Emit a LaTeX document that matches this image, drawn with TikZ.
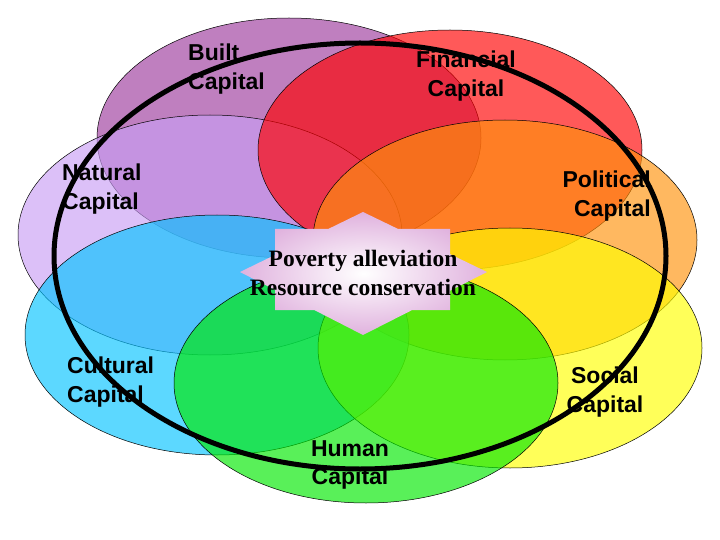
\documentclass[tikz,border=0pt]{standalone}
\usepackage{fontspec}
\setmainfont{Liberation Serif}
\setsansfont{Liberation Sans}
\usetikzlibrary{shapes.geometric,positioning}
\definecolor{builtc}{RGB}{157,58,157}
\definecolor{finc}{RGB}{255,0,0}
\definecolor{natc}{RGB}{201,158,244}
\definecolor{polc}{RGB}{255,146,10}
\definecolor{cultc}{RGB}{4,195,255}
\definecolor{socc}{RGB}{255,255,0}
\definecolor{humc}{RGB}{0,232,0}
\definecolor{starpink}{RGB}{224,178,222}
\tikzset{
  capblob/.style={ellipse,draw=black,line width=0.5pt,fill opacity=0.65,
              minimum width=384pt,minimum height=240pt,inner sep=0pt},
  caplabel/.style={font=\sffamily\bfseries\fontsize{23}{28.5}\selectfont,
                   inner sep=0pt},
  sustring/.style={ellipse,draw=black,line width=5pt,
               minimum width=612pt,minimum height=426pt,inner sep=0pt},
  goaltext/.style={font=\rmfamily\bfseries\fontsize{23.5}{29}\selectfont,
                   align=center,inner sep=0pt},
}
\begin{document}
\begin{tikzpicture}[x=1pt,y=-1pt]
  \useasboundingbox (0,0) rectangle (720,540);
  % capitals
  \node[capblob,fill=builtc] (built) at (289,138) {};
  \node[capblob,fill=natc]   (nat)   at (210,235) {};
  \node[capblob,fill=finc]   (fin)   at (450,150) {};
  \node[capblob,fill=polc]   (pol)   at (505,240) {};
  \node[capblob,fill=cultc]  (cult)  at (217,335) {};
  \node[capblob,fill=socc]   (soc)   at (510,348) {};
  \node[capblob,fill=humc]   (hum)   at (366,383) {};
  % sustainability ring
  \node[sustring] (sust) at (360,256) {};
  % centre star
  \shade[inner color=white,outer color=starpink]
    (275,229) -- (450,229) -- (450,310) -- (275,310) -- cycle
    (363,212) -- (487,272) -- (363,335) -- (240,272) -- cycle;
  \node[goaltext] (goal) at (363,273) {Poverty alleviation\\Resource conservation};
  % labels
  \node[caplabel,align=left,anchor=west]   (lbuilt) at (188,69)  {Built\\Capital};
  \node[caplabel,align=center]             (lfin)   at (466,76)  {Financial\\Capital};
  \node[caplabel,align=left,anchor=west]   (lnat)   at (62,189)  {Natural\\Capital};
  \node[caplabel,align=right,anchor=east]  (lpol)   at (651,196) {Political\\Capital};
  \node[caplabel,align=left,anchor=west]   (lcult)  at (67,382)  {Cultural\\Capital};
  \node[caplabel,align=center]             (lsoc)   at (605,392) {Social\\Capital};
  \node[caplabel,align=center]             (lhum)   at (350,465) {Human\\Capital};
\end{tikzpicture}
\end{document}
